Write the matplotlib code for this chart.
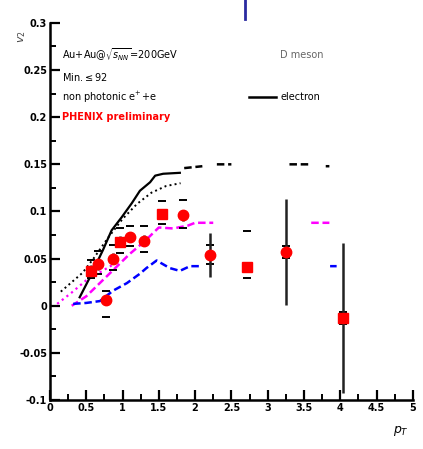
"""
v2 vs pT: PHENIX preliminary non-photonic electron v2 with model curves.
Output: out.png (423x449)
"""
import numpy as np
import matplotlib.pyplot as plt
from matplotlib.lines import Line2D
from matplotlib.patches import Rectangle
from matplotlib.ticker import MultipleLocator

# === data ===
# red points, two marker groups
sq_x = [0.56, 0.96, 1.54, 2.72, 4.04]
sq_y = [0.037, 0.068, 0.097, 0.041, -0.013]
sq_err = [0.006, 0.006, 0.005, 0.004, 0.080]
sq_sys_lo = [0.008, 0.012, 0.010, 0.012, 0.006]
sq_sys_hi = [0.012, 0.014, 0.014, 0.038, 0.006]

ci_x = [0.66, 0.77, 0.87, 1.10, 1.29, 1.84, 2.20, 3.25]
ci_y = [0.044, 0.006, 0.050, 0.073, 0.069, 0.096, 0.054, 0.057]
ci_err = [0.006, 0.005, 0.006, 0.005, 0.006, 0.006, 0.023, 0.056]
ci_sys_lo = [0.010, 0.018, 0.012, 0.010, 0.012, 0.013, 0.010, 0.006]
ci_sys_hi = [0.014, 0.010, 0.014, 0.012, 0.016, 0.016, 0.010, 0.006]

# electron curves (black)
el_x = [0.41, 0.55, 0.73, 0.85, 0.99, 1.13, 1.24, 1.38, 1.45, 1.56, 1.79]
el_y = [0.009, 0.030, 0.059, 0.080, 0.094, 0.109, 0.122, 0.131, 0.138, 0.140, 0.141]
el_dot_x = [0.15, 0.30, 0.45, 0.60, 0.80, 1.00, 1.20, 1.40, 1.60, 1.80]
el_dot_y = [0.015, 0.025, 0.035, 0.050, 0.072, 0.092, 0.108, 0.120, 0.127, 0.130]
el_tail_x = [1.85, 2.10, np.nan, 2.30, 2.50, np.nan, 3.30, 3.60, np.nan, 3.80, 3.85]
el_tail_y = [0.146, 0.148, np.nan, 0.150, 0.150, np.nan, 0.150, 0.150, np.nan, 0.148, 0.148]

# D meson curves (magenta, blue)
mag_x = [0.30, 0.50, 0.70, 0.90, 1.10, 1.30, 1.50, 1.70, 1.90, 2.00, 2.25, np.nan, 3.60, 3.85]
mag_y = [0.000, 0.010, 0.025, 0.040, 0.055, 0.068, 0.083, 0.082, 0.085, 0.088, 0.088, np.nan, 0.088, 0.088]
mag2_x = [0.10, 0.30, 0.50, 0.70, 0.90]
mag2_y = [0.002, 0.014, 0.027, 0.036, 0.045]
blue_x = [0.32, 0.50, 0.69, 0.87, 1.06, 1.24, 1.33, 1.47, 1.65, 1.79, 1.93, 2.07, np.nan, 3.86, 3.95]
blue_y = [0.002, 0.003, 0.005, 0.016, 0.024, 0.034, 0.040, 0.048, 0.040, 0.037, 0.042, 0.042, np.nan, 0.042, 0.042]

x_ticks = [0, 0.5, 1, 1.5, 2, 2.5, 3, 3.5, 4, 4.5, 5]
y_ticks = [-0.1, -0.05, 0, 0.05, 0.1, 0.15, 0.2, 0.25, 0.3]

# === plot ===
fig = plt.figure(figsize=(4.23, 4.49), dpi=100)
ax = fig.add_axes([0.118, 0.109, 0.858, 0.840])
ax.set_xlim(0, 5)
ax.set_ylim(-0.1, 0.3)

ax.plot(mag2_x, mag2_y, color='magenta', ls=':', lw=1.6)
ax.plot(mag_x, mag_y, color='magenta', ls=(0, (3, 1.5)), lw=1.8)
ax.plot(blue_x, blue_y, color='blue', ls=(0, (3, 1.5)), lw=1.8)
ax.plot(el_dot_x, el_dot_y, color='black', ls=':', lw=1.4)
ax.plot(el_x, el_y, color='black', ls='-', lw=1.6)
ax.plot(el_tail_x, el_tail_y, color='black', ls=(0, (3, 1.5)), lw=1.8)

# systematic brackets
for xs, ys, lo, hi in [(sq_x, sq_y, sq_sys_lo, sq_sys_hi),
                       (ci_x, ci_y, ci_sys_lo, ci_sys_hi)]:
    ax.errorbar(xs, ys, yerr=[lo, hi], fmt='none', ecolor='black',
                elinewidth=0, capsize=3, capthick=1.4, zorder=4)

# stat error bars + points
ax.errorbar(sq_x, sq_y, yerr=sq_err, fmt='s', color='red', ms=7.5,
            ecolor='#222222', elinewidth=1.8, capsize=0, zorder=5)
ax.errorbar(ci_x, ci_y, yerr=ci_err, fmt='o', color='red', ms=7.5,
            ecolor='#222222', elinewidth=1.8, capsize=0, zorder=5)

# axes styling
for s in ['top', 'right']:
    ax.spines[s].set_visible(False)
for s in ['left', 'bottom']:
    ax.spines[s].set_linewidth(1.8)
ax.set_xticks(x_ticks)
ax.set_xticklabels([f'{t:g}' for t in x_ticks])
ax.set_yticks(y_ticks)
ax.set_yticklabels([f'{t:g}' for t in y_ticks])
ax.xaxis.set_minor_locator(MultipleLocator(0.25))
ax.yaxis.set_minor_locator(MultipleLocator(0.025))
ax.tick_params(which='major', direction='in', length=7, width=1.6,
               labelsize=7, pad=2)
ax.tick_params(which='minor', direction='in', length=4, width=1.4)
for lab in ax.get_xticklabels() + ax.get_yticklabels():
    lab.set_fontweight('bold')

ax.text(-0.38, 0.285, r'$v_2$', rotation=90, ha='center', va='center',
        fontsize=8, color='#444444', clip_on=False)
ax.text(4.95, -0.125, r'$p_T$', ha='right', va='top', fontsize=9,
        fontweight='bold', clip_on=False)

# annotations
ax.text(0.17, 0.266, r'Au+Au@$\sqrt{s_{NN}}$=200GeV', fontsize=7, va='center')
ax.text(0.17, 0.243, r'Min.$\leq$92', fontsize=7, va='center')
ax.text(0.17, 0.221, r'non photonic e$^{+}$+e', fontsize=7, va='center')
ax.text(0.17, 0.200, 'PHENIX preliminary', fontsize=7, va='center',
        color='red', fontweight='bold')
ax.text(3.17, 0.266, 'D meson', fontsize=7, va='center', color='#666666')
ax.add_patch(Rectangle((3.8, 0.250), 0.9, 0.035, facecolor='white',
                       edgecolor='none', zorder=6))
ax.plot([2.74, 3.11], [0.221, 0.221], color='black', lw=1.8)
ax.text(3.17, 0.221, 'electron', fontsize=7, va='center')

# stray blue tick mark at top of the slide
fig.add_artist(Line2D([0.579, 0.579], [0.958, 1.0], color='#2a2aa0', lw=2))

fig.savefig('out.png', dpi=100)
